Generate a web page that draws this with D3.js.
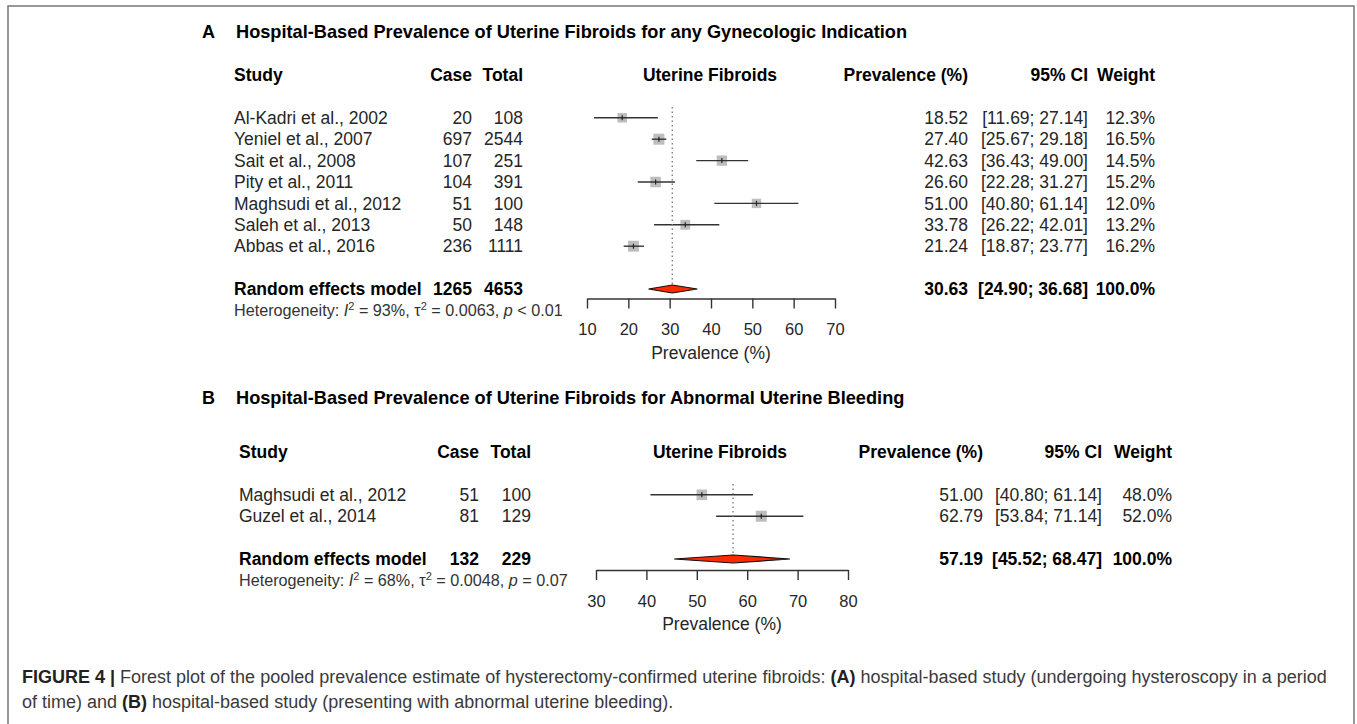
<!DOCTYPE html>
<html lang="en">
<head>
    <meta charset="UTF-8">
    <title>forest</title>
    <script src="https://d3js.org/d3.v7.min.js"></script>
    <style>
        body { margin: 0; background: #fff; }
        text { font-family: "Liberation Sans", Arial, Helvetica, sans-serif; }
    </style>
</head>
<body>
<script>
    const width = 1357
    const height = 724

    // panel A data
    const studiesA = ['Al-Kadri et al., 2002', 'Yeniel et al., 2007', 'Sait et al., 2008', 'Pity et al., 2011',
        'Maghsudi et al., 2012', 'Saleh et al., 2013', 'Abbas et al., 2016']
    const caseA = [20, 697, 107, 104, 51, 50, 236]
    const totalA = [108, 2544, 251, 391, 100, 148, 1111]
    const prevA = [18.52, 27.40, 42.63, 26.60, 51.00, 33.78, 21.24]
    const lowA = [11.69, 25.67, 36.43, 22.28, 40.80, 26.22, 18.87]
    const highA = [27.14, 29.18, 49.00, 31.27, 61.14, 42.01, 23.77]
    const weightA = [12.3, 16.5, 14.5, 15.2, 12.0, 13.2, 16.2]
    const pooledA = {cases: 1265, total: 4653, prev: 30.63, low: 24.90, high: 36.68, weight: 100.0}
    const hetA = {i2: '93%', tau2: '0.0063', p: '< 0.01'}
    const ticksA = [10, 20, 30, 40, 50, 60, 70]

    // panel B data
    const studiesB = ['Maghsudi et al., 2012', 'Guzel et al., 2014']
    const caseB = [51, 81]
    const totalB = [100, 129]
    const prevB = [51.00, 62.79]
    const lowB = [40.80, 53.84]
    const highB = [61.14, 71.14]
    const weightB = [48.0, 52.0]
    const pooledB = {cases: 132, total: 229, prev: 57.19, low: 45.52, high: 68.47, weight: 100.0}
    const hetB = {i2: '68%', tau2: '0.0048', p: '= 0.07'}
    const ticksB = [30, 40, 50, 60, 70, 80]

    const svg = d3.select("body")
        .append("svg")
        .attr("width", width)
        .attr("height", height)

    // frame
    svg.append("path")
        .attr("d", "M8,724 L8,6 L1354,6 L1354,724")
        .attr("fill", "none")
        .attr("stroke", "#777")
        .attr("stroke-width", 1.5)

    const fs = 17.5
    const lineH = 21.4

    function panel(p) {
        const g = svg.append("g")
        const y = function (line) { return p.top + line * lineH }
        const xScale = d3.scaleLinear().domain(p.domain).range(p.range)

        g.append("text").text(p.letter)
            .attr("x", 202).attr("y", p.titleY).attr("dy", "0.35em")
            .attr("font-weight", "bold").attr("font-size", 18)
        g.append("text").text(p.title)
            .attr("x", 236).attr("y", p.titleY).attr("dy", "0.35em")
            .attr("font-weight", "bold").attr("font-size", 18.2)

        // headers
        const heads = [
            {t: 'Study', x: p.col.study, a: 'start'},
            {t: 'Case', x: p.col.cases, a: 'end'},
            {t: 'Total', x: p.col.total, a: 'end'},
            {t: 'Uterine Fibroids', x: p.col.mid, a: 'middle'},
            {t: 'Prevalence (%)', x: p.col.prev, a: 'end'},
            {t: '95% CI', x: p.col.ci, a: 'end'},
            {t: 'Weight', x: p.col.w, a: 'end'}
        ]
        heads.forEach(function (h) {
            g.append("text").text(h.t)
                .attr("x", h.x).attr("y", y(0)).attr("dy", "0.35em")
                .attr("text-anchor", h.a)
                .attr("font-weight", "bold").attr("font-size", fs)
        })

        const rows = p.studies.map(function (s, i) {
            return {study: s, cases: p.cases[i], total: p.total[i], prev: p.prev[i],
                low: p.low[i], high: p.high[i], w: p.weight[i], line: i + 2}
        })
        const maxW = d3.max(p.weight)

        rows.forEach(function (r) {
            const cells = [
                {t: r.study, x: p.col.study, a: 'start'},
                {t: r.cases, x: p.col.cases, a: 'end'},
                {t: r.total, x: p.col.total, a: 'end'},
                {t: r.prev.toFixed(2), x: p.col.prev, a: 'end'},
                {t: '[' + r.low.toFixed(2) + '; ' + r.high.toFixed(2) + ']', x: p.col.ci, a: 'end'},
                {t: r.w.toFixed(1) + '%', x: p.col.w, a: 'end'}
            ]
            cells.forEach(function (c) {
                g.append("text").text(c.t)
                    .attr("x", c.x).attr("y", y(r.line)).attr("dy", "0.35em")
                    .attr("text-anchor", c.a)
                    .attr("font-size", fs).attr("fill", "#262626")
            })
            const side = 11 * Math.sqrt(r.w / maxW)
            g.append("rect")
                .attr("x", xScale(r.prev) - side / 2).attr("y", y(r.line) - side / 2)
                .attr("width", side).attr("height", side)
                .attr("fill", "#bdbdbd")
            g.append("line")
                .attr("x1", xScale(r.low)).attr("x2", xScale(r.high))
                .attr("y1", y(r.line)).attr("y2", y(r.line))
                .attr("stroke", "#333").attr("stroke-width", 1.4)
            g.append("line")
                .attr("x1", xScale(r.prev)).attr("x2", xScale(r.prev))
                .attr("y1", y(r.line) - 2.5).attr("y2", y(r.line) + 2.5)
                .attr("stroke", "#222").attr("stroke-width", 1.2)
        })

        // pooled row
        const pl = p.studies.length + 3
        const pool = p.pooled
        const pcells = [
            {t: 'Random effects model', x: p.col.study, a: 'start'},
            {t: pool.cases, x: p.col.cases, a: 'end'},
            {t: pool.total, x: p.col.total, a: 'end'},
            {t: pool.prev.toFixed(2), x: p.col.prev, a: 'end'},
            {t: '[' + pool.low.toFixed(2) + '; ' + pool.high.toFixed(2) + ']', x: p.col.ci, a: 'end'},
            {t: pool.weight.toFixed(1) + '%', x: p.col.w, a: 'end'}
        ]
        pcells.forEach(function (c) {
            g.append("text").text(c.t)
                .attr("x", c.x).attr("y", y(pl)).attr("dy", "0.35em")
                .attr("text-anchor", c.a)
                .attr("font-weight", "bold").attr("font-size", fs)
        })

        // reference dotted line
        g.append("line")
            .attr("x1", xScale(pool.prev)).attr("x2", xScale(pool.prev))
            .attr("y1", y(1.5)).attr("y2", y(pl))
            .attr("stroke", "#777").attr("stroke-width", 1.3)
            .attr("stroke-dasharray", "1.5,3")

        // diamond
        const yc = y(pl)
        g.append("path")
            .attr("d", "M" + xScale(pool.low) + "," + yc +
                "L" + xScale(pool.prev) + "," + (yc - 4) +
                "L" + xScale(pool.high) + "," + yc +
                "L" + xScale(pool.prev) + "," + (yc + 4) + "Z")
            .attr("fill", "#ff2a00").attr("stroke", "#111").attr("stroke-width", 1.2)

        // heterogeneity
        const ht = g.append("text")
            .attr("x", p.col.study).attr("y", y(pl) + 21).attr("dy", "0.35em")
            .attr("font-size", 16.2).attr("fill", "#333")
        ht.append("tspan").text("Heterogeneity: ")
        ht.append("tspan").text("I").attr("font-style", "italic")
        ht.append("tspan").text("2").attr("font-size", 11).attr("dy", "-0.5em")
        ht.append("tspan").text(" = " + p.het.i2 + ", τ").attr("dy", "0.35em")
        ht.append("tspan").text("2").attr("font-size", 11).attr("dy", "-0.5em")
        ht.append("tspan").text(" = " + p.het.tau2 + ", ").attr("dy", "0.35em")
        ht.append("tspan").text("p").attr("font-style", "italic")
        ht.append("tspan").text(" " + p.het.p)

        // axis
        const axis = d3.axisBottom(xScale)
            .tickValues(p.ticks)
            .tickSize(10)
            .tickSizeOuter(0)
            .tickPadding(15)
        const ag = g.append("g")
            .attr("transform", "translate(0," + p.axisY + ")")
            .call(axis)
        ag.select(".domain").attr("stroke", "#333").attr("stroke-width", 1.4)
        ag.selectAll(".tick line").attr("stroke", "#333").attr("stroke-width", 1.4)
        ag.selectAll(".tick text")
            .attr("font-size", 16.5).attr("fill", "#262626")
            .attr("font-family", "'Liberation Sans', Arial, sans-serif")
        g.append("text").text("Prevalence (%)")
            .attr("x", (p.range[0] + p.range[1]) / 2).attr("y", p.axisY + 54).attr("dy", "0.35em")
            .attr("text-anchor", "middle")
            .attr("font-size", 17.5).attr("fill", "#262626")
    }

    panel({
        letter: 'A', titleY: 32, top: 75,
        title: 'Hospital-Based Prevalence of Uterine Fibroids for any Gynecologic Indication',
        studies: studiesA, cases: caseA, total: totalA, prev: prevA, low: lowA, high: highA,
        weight: weightA, pooled: pooledA, het: hetA, ticks: ticksA,
        domain: [10, 70], range: [587, 835], axisY: 298.5,
        col: {study: 234, cases: 472, total: 523, mid: 710, prev: 968, ci: 1088, w: 1155}
    })

    panel({
        letter: 'B', titleY: 398, top: 452,
        title: 'Hospital-Based Prevalence of Uterine Fibroids for Abnormal Uterine Bleeding',
        studies: studiesB, cases: caseB, total: totalB, prev: prevB, low: lowB, high: highB,
        weight: weightB, pooled: pooledB, het: hetB, ticks: ticksB,
        domain: [30, 80], range: [596, 848], axisY: 570,
        col: {study: 239, cases: 479, total: 531, mid: 720, prev: 983, ci: 1102, w: 1172}
    })

    // caption
    const cap1 = svg.append("text").attr("x", 22).attr("y", 677).attr("dy", "0.35em")
        .attr("font-size", 18).attr("fill", "#3a3a3a")
    cap1.append("tspan").text("FIGURE 4 | ").attr("font-weight", "bold").attr("fill", "#222")
    cap1.append("tspan").text("Forest plot of the pooled prevalence estimate of hysterectomy-confirmed uterine fibroids: ")
    cap1.append("tspan").text("(A)").attr("font-weight", "bold").attr("fill", "#222")
    cap1.append("tspan").text(" hospital-based study (undergoing hysteroscopy in a period")
    const cap2 = svg.append("text").attr("x", 22).attr("y", 702).attr("dy", "0.35em")
        .attr("font-size", 18).attr("fill", "#3a3a3a")
    cap2.append("tspan").text("of time) and ")
    cap2.append("tspan").text("(B)").attr("font-weight", "bold").attr("fill", "#222")
    cap2.append("tspan").text(" hospital-based study (presenting with abnormal uterine bleeding).")
</script>
</body>
</html>
